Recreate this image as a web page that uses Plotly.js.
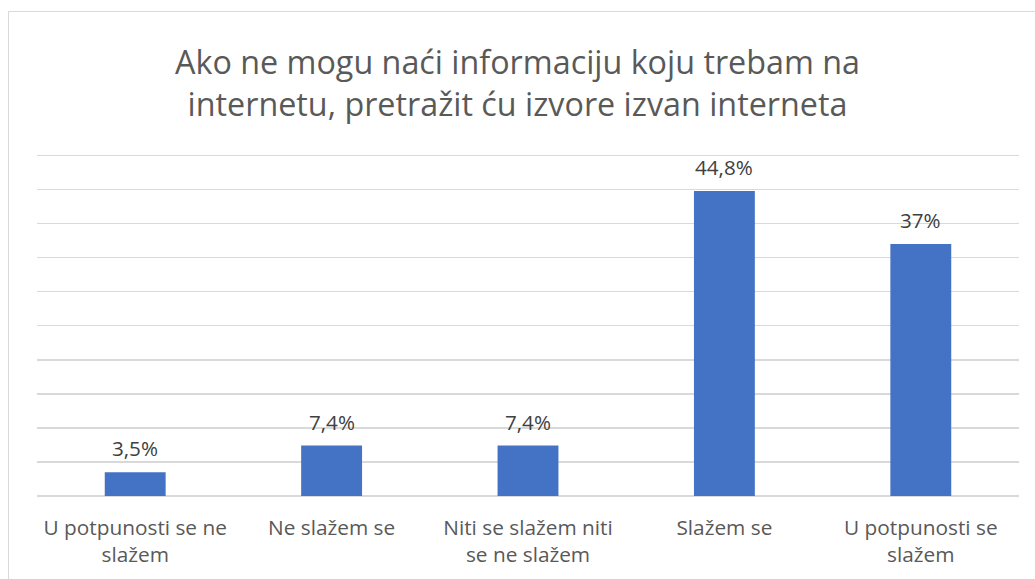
<!DOCTYPE html>
<html>
<head>
<meta charset="utf-8">
<script src="https://cdn.plot.ly/plotly-3.0.1.min.js"></script>
<style>
html,body{margin:0;padding:0;background:#fff;overflow:hidden;width:1035px;height:579px;}
#frame{position:absolute;left:8px;top:11px;width:1200px;height:800px;border:1px solid #d9d9d9;box-sizing:border-box;}
#chart{position:absolute;left:0;top:0;width:1035px;height:579px;}
</style>
</head>
<body>
<div id="frame"></div>
<div id="chart"></div>
<script>
const categories = ["U potpunosti se ne<br>slažem", "Ne slažem se", "Niti se slažem niti<br>se ne slažem", "Slažem se", "U potpunosti se<br>slažem"];
const values = [3.5, 7.4, 7.4, 44.8, 37];
const labels = ["3,5%", "7,4%", "7,4%", "44,8%", "37%"];
const titleText = "Ako ne mogu naći informaciju koju trebam na<br>internetu, pretražit ću izvore izvan interneta";

const font = "'Open Sans', 'Noto Sans', sans-serif";

const annotations = categories.map((c, i) => ({
  x: c, y: values[i], xref: 'x', yref: 'y',
  text: labels[i], showarrow: false,
  yanchor: 'bottom', yshift: 8,
  font: {family: font, size: 20.6, color: '#404040'}
}));

Plotly.newPlot('chart', [{
  type: 'bar',
  x: categories,
  y: values,
  marker: {color: '#4472c4'},
  hoverinfo: 'none'
}], {
  width: 1035,
  height: 579,
  paper_bgcolor: 'rgba(0,0,0,0)',
  plot_bgcolor: 'rgba(0,0,0,0)',
  margin: {l: 37, r: 16, t: 142, b: 83},
  bargap: 0.69,
  showlegend: false,
  annotations: annotations,
  title: {
    text: titleText,
    font: {family: font, size: 32.3, color: '#595959'},
    x: 0.5,
    xanchor: 'center',
    y: 0.8715,
    yanchor: 'top'
  },
  xaxis: {
    type: 'category',
    tickfont: {family: font, size: 20.8, color: '#595959'},
    ticks: 'outside',
    ticklen: 13,
    tickcolor: 'rgba(0,0,0,0)',
    showline: false,
    showgrid: false,
    fixedrange: true
  },
  yaxis: {
    range: [0, 52],
    dtick: 5,
    showticklabels: false,
    showgrid: true,
    gridcolor: '#d9d9d9',
    gridwidth: 1.3,
    zeroline: true,
    zerolinecolor: '#d9d9d9',
    zerolinewidth: 1.3,
    fixedrange: true
  }
}, {staticPlot: true});
</script>
</body>
</html>
